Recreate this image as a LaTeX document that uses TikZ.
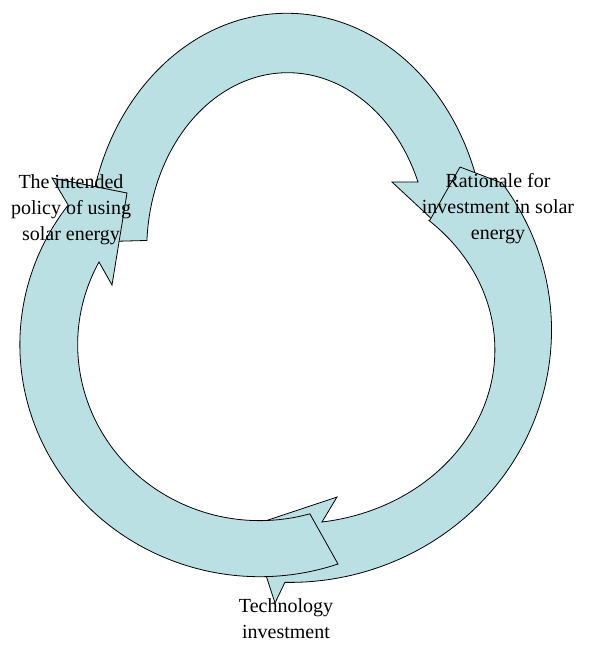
\documentclass[tikz,border=0pt]{standalone}
\usepackage{fontspec}
\setmainfont{Liberation Serif}
\definecolor{cyclefill}{RGB}{187,224,227}
\tikzset{
  blockarrow/.style={fill=cyclefill, draw=black, line width=0.8pt, line join=miter},
  cyclelabel/.style={align=center, inner sep=0pt, anchor=north,
    font=\fontsize{20}{26}\selectfont}
}

\begin{document}
\begin{tikzpicture}[x=1pt,y=-1pt]
    \useasboundingbox (0,0) rectangle (593,651);
    % top arrow, its head runs under the right one
    \path[blockarrow] (88,242) arc[start angle=182, end angle=341, x radius=199, y radius=237]
        -- (490,215) -- (435,222) -- (392,182) -- (418,182)
        arc[start angle=337.5, end angle=183, x radius=141, y radius=177] -- cycle;
    % right arrow
    \path[blockarrow] (430,220) -- (460,167) -- (502,183)
        arc[start angle=324.2, end angle=451, x radius=262, y radius=252]
        -- (275,603) -- (250,526) -- (337,497) -- (322,522)
        arc[start angle=442.2, end angle=312.1, x radius=200, y radius=174] -- cycle;
    % bottom-left arrow
    \path[blockarrow] (338,564) arc[start angle=71, end angle=217, x radius=240, y radius=232]
        -- (52,178) -- (127,193) -- (112,285) -- (99,262)
        arc[start angle=208, end angle=74, x radius=182, y radius=176] -- cycle;

    \begin{scope}[every node/.style={cyclelabel}]
        \node (policy) at (71,174) {The intended\\policy of using\\solar energy};
        \node (rationale) at (498,173) {Rationale for\\investment in solar\\energy};
        \node (techinv) at (286,598) {Technology\\investment};
    \end{scope}
\end{tikzpicture}
\end{document}
